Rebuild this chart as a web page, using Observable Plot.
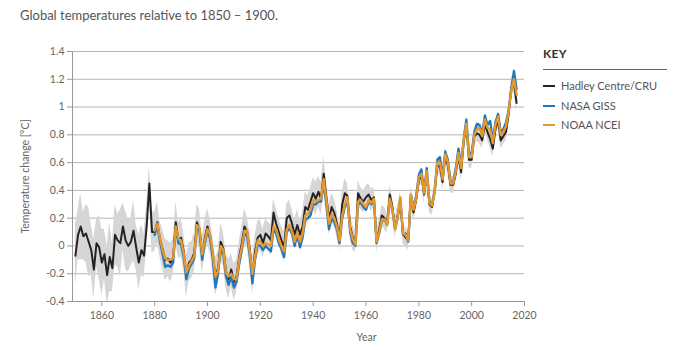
<!DOCTYPE html>
<html>
<head>
<meta charset="utf-8">
<script src="https://cdn.jsdelivr.net/npm/d3@7"></script>
<script src="https://cdn.jsdelivr.net/npm/@observablehq/plot@0.6"></script>
<style>
  html, body { margin: 0; padding: 0; background: #fff; }
  #wrap { position: relative; width: 682px; height: 350px; font-family: Lato, "Open Sans", sans-serif; }
  #title { position: absolute; left: 20px; top: 7px; font-size: 13px; color: #555; line-height: 16px; white-space: nowrap; }
  #legend { position: absolute; left: 543px; top: 47px; width: 124px; color: #555; }
  #legend .key { font-size: 12px; font-weight: 700; color: #333; letter-spacing: 0.3px; line-height: 14px; padding-bottom: 8px; border-bottom: 1px solid #666; }
  #legend .item { position: relative; height: 19.5px; font-size: 11px; line-height: 19.5px; padding-left: 18px; white-space: nowrap; }
  #legend .item .sw { position: absolute; left: 0; top: 9px; width: 12px; height: 2px; }
  #legend .items { margin-top: 6px; }
</style>
</head>
<body>
<div id="wrap">
  <div id="chart"></div>
  <div id="title"></div>
  <div id="legend"></div>
</div>
<script>
// ---- data ----
const titleText = "Global temperatures relative to 1850 \u2013 1900.";
const yLabel = "Temperature change [\u00B0C]";
const xLabel = "Year";
const keyTitle = "KEY";
const seriesNames = ["Hadley Centre/CRU", "NASA GISS", "NOAA NCEI"];
const seriesColors = ["#262223", "#1f78bd", "#e6982c"];
const bandColor = "#d6d6d6";

const hadleyStart = 1850;
const hadley = [
 -0.07, 0.08, 0.14, 0.07, 0.09, 0.03, -0.03, -0.17, 0.02, -0.01,
 -0.12, -0.06, -0.21, -0.08, -0.16, 0.08, 0.04, 0.02, 0.14, 0.04,
  0.00, 0.03, 0.11, -0.01, -0.12, -0.03, -0.07, 0.15, 0.45, 0.10,
  0.10, 0.17, 0.05, -0.02, -0.10, -0.09, -0.12, -0.08, 0.17, 0.04,
  0.06, -0.04, -0.22, -0.12, -0.10, -0.05, 0.17, 0.12, -0.07, 0.06,
  0.14, 0.07, -0.06, -0.22, -0.16, 0.03, -0.02, -0.18, -0.24, -0.17,
 -0.26, -0.22, -0.08, 0.02, 0.14, 0.10, -0.02, -0.22, -0.04, 0.06,
  0.08, 0.02, 0.09, 0.07, 0.04, 0.24, 0.16, 0.10, 0.04, -0.01,
  0.20, 0.22, 0.16, 0.08, 0.15, 0.08, 0.14, 0.28, 0.26, 0.32,
  0.38, 0.34, 0.39, 0.34, 0.52, 0.35, 0.19, 0.28, 0.24, 0.16,
  0.05, 0.30, 0.38, 0.36, 0.14, 0.06, 0.03, 0.38, 0.34, 0.32,
  0.35, 0.37, 0.33, 0.35, 0.03, 0.12, 0.22, 0.20, 0.16, 0.37,
  0.28, 0.13, 0.22, 0.32, 0.09, 0.06, 0.04, 0.36, 0.24, 0.33,
  0.47, 0.51, 0.37, 0.52, 0.30, 0.28, 0.39, 0.58, 0.57, 0.46,
  0.65, 0.58, 0.44, 0.44, 0.52, 0.65, 0.53, 0.75, 0.87, 0.62,
  0.62, 0.79, 0.81, 0.80, 0.76, 0.88, 0.82, 0.77, 0.70, 0.84,
  0.91, 0.76, 0.79, 0.82, 0.95, 1.14, 1.18, 1.03
];
// half-width of the grey uncertainty band around the Hadley series
const hadleyUnc = [
 0.22, 0.18, 0.24, 0.17, 0.21, 0.25, 0.18, 0.22, 0.17, 0.23,
 0.24, 0.18, 0.21, 0.25, 0.17, 0.22, 0.19, 0.24, 0.17, 0.21,
 0.19, 0.17, 0.22, 0.16, 0.20, 0.18, 0.16, 0.15, 0.13, 0.15,
 0.14, 0.15, 0.13, 0.14, 0.15, 0.13, 0.14, 0.13, 0.15, 0.13,
 0.14, 0.13, 0.15, 0.14, 0.13, 0.14, 0.13, 0.14, 0.13, 0.12,
 0.13, 0.12, 0.13, 0.14, 0.12, 0.13, 0.12, 0.13, 0.14, 0.12,
 0.13, 0.12, 0.11, 0.12, 0.13, 0.11, 0.12, 0.13, 0.11, 0.12,
 0.11, 0.10, 0.11, 0.10, 0.11, 0.10, 0.11, 0.10, 0.10, 0.11,
 0.10, 0.11, 0.10, 0.10, 0.11, 0.10, 0.10, 0.11, 0.10, 0.10,
 0.11, 0.12, 0.11, 0.12, 0.13, 0.12, 0.11, 0.10, 0.10, 0.10,
 0.09, 0.09, 0.10, 0.09, 0.09, 0.09, 0.08, 0.09, 0.08, 0.08,
 0.08, 0.08, 0.08, 0.07, 0.08, 0.07, 0.07, 0.08, 0.07, 0.07,
 0.07, 0.07, 0.07, 0.07, 0.07, 0.07, 0.07, 0.07, 0.06, 0.06,
 0.06, 0.06, 0.06, 0.06, 0.06, 0.06, 0.06, 0.06, 0.06, 0.06,
 0.06, 0.06, 0.06, 0.06, 0.06, 0.06, 0.06, 0.06, 0.06, 0.06,
 0.06, 0.06, 0.06, 0.06, 0.06, 0.06, 0.06, 0.06, 0.06, 0.06,
 0.06, 0.06, 0.06, 0.06, 0.06, 0.06, 0.07, 0.07
];

const gissStart = 1880;
const giss = [
  0.08, 0.15, 0.03, -0.06, -0.15, -0.14, -0.15, -0.12, 0.13, 0.02,
  0.01, -0.08, -0.24, -0.16, -0.13, -0.09, 0.14, 0.10, -0.10, 0.02,
  0.11, 0.05, -0.09, -0.30, -0.20, -0.03, -0.06, -0.22, -0.28, -0.22,
 -0.30, -0.26, -0.13, -0.03, 0.09, 0.07, -0.07, -0.27, -0.10, 0.01,
  0.00, -0.03, 0.00, -0.02, -0.04, 0.12, 0.09, 0.02, -0.02, -0.08,
  0.10, 0.13, 0.09, 0.00, 0.08, -0.01, 0.06, 0.19, 0.20, 0.22,
  0.30, 0.30, 0.32, 0.32, 0.45, 0.30, 0.12, 0.20, 0.17, 0.12,
  0.02, 0.20, 0.28, 0.33, 0.10, 0.02, 0.00, 0.30, 0.31, 0.28,
  0.26, 0.32, 0.30, 0.33, 0.02, 0.09, 0.18, 0.19, 0.15, 0.33,
  0.26, 0.12, 0.20, 0.34, 0.08, 0.09, 0.03, 0.37, 0.27, 0.36,
  0.51, 0.55, 0.38, 0.56, 0.32, 0.29, 0.40, 0.62, 0.64, 0.50,
  0.68, 0.62, 0.46, 0.46, 0.56, 0.70, 0.59, 0.77, 0.91, 0.66,
  0.67, 0.82, 0.88, 0.87, 0.81, 0.94, 0.87, 0.90, 0.76, 0.89,
  0.95, 0.82, 0.84, 0.89, 0.98, 1.13, 1.26, 1.13
];

const noaaStart = 1880;
const noaa = [
  0.11, 0.16, 0.06, -0.03, -0.09, -0.10, -0.10, -0.09, 0.14, 0.05,
  0.04, -0.05, -0.19, -0.14, -0.11, -0.07, 0.15, 0.13, -0.06, 0.04,
  0.12, 0.08, -0.05, -0.22, -0.18, 0.00, -0.03, -0.19, -0.22, -0.20,
 -0.24, -0.24, -0.10, -0.01, 0.11, 0.11, -0.04, -0.20, -0.08, 0.04,
  0.03, 0.00, 0.02, 0.01, 0.00, 0.14, 0.12, 0.05, 0.00, -0.04,
  0.12, 0.15, 0.11, 0.03, 0.10, 0.03, 0.09, 0.22, 0.23, 0.26,
  0.33, 0.32, 0.33, 0.34, 0.48, 0.33, 0.16, 0.23, 0.20, 0.14,
  0.04, 0.22, 0.30, 0.35, 0.12, 0.05, 0.01, 0.32, 0.33, 0.30,
  0.28, 0.33, 0.31, 0.34, 0.03, 0.10, 0.19, 0.19, 0.15, 0.34,
  0.26, 0.12, 0.21, 0.35, 0.09, 0.08, 0.04, 0.37, 0.26, 0.34,
  0.49, 0.52, 0.38, 0.54, 0.31, 0.29, 0.39, 0.60, 0.60, 0.48,
  0.66, 0.60, 0.45, 0.45, 0.54, 0.67, 0.56, 0.77, 0.88, 0.64,
  0.64, 0.80, 0.84, 0.85, 0.79, 0.91, 0.85, 0.84, 0.74, 0.87,
  0.93, 0.80, 0.82, 0.86, 0.97, 1.12, 1.20, 1.09
];

const xDomain = [1848.9, 2020];
const xTicks = [1860, 1880, 1900, 1920, 1940, 1960, 1980, 2000, 2020];
const yDomain = [-0.4, 1.4];
const yTicks = [-0.4, -0.2, 0, 0.2, 0.4, 0.6, 0.8, 1, 1.2, 1.4];

// ---- tables ----
const hadRows = hadley.map((v, i) => ({year: hadleyStart + i, value: v, lo: v - hadleyUnc[i], hi: v + hadleyUnc[i]}));
const gissRows = giss.map((v, i) => ({year: gissStart + i, value: v}));
const noaaRows = noaa.map((v, i) => ({year: noaaStart + i, value: v}));
const yFmt = d => String(+d.toFixed(1));

const chart = Plot.plot({
  width: 682,
  height: 350,
  marginLeft: 72,
  marginRight: 158,
  marginTop: 51,
  marginBottom: 49,
  style: {fontFamily: "Lato, 'Open Sans', sans-serif", fontSize: "10.5px", color: "#666", background: "#fff"},
  x: {domain: xDomain},
  y: {domain: yDomain},
  marks: [
    Plot.gridY(yTicks, {stroke: "#b4b4b4", strokeOpacity: 1, strokeWidth: 1}),
    Plot.areaY(hadRows, {x: "year", y1: "lo", y2: "hi", fill: bandColor}),
    Plot.line(hadRows, {x: "year", y: "value", stroke: seriesColors[0], strokeWidth: 2}),
    Plot.line(gissRows, {x: "year", y: "value", stroke: seriesColors[1], strokeWidth: 2.3}),
    Plot.line(noaaRows, {x: "year", y: "value", stroke: seriesColors[2], strokeWidth: 2.4}),
    Plot.ruleX([xDomain[0]], {stroke: "#9a9a9a", strokeWidth: 1}),
    Plot.ruleY([yDomain[0]], {stroke: "#9a9a9a", strokeWidth: 1}),
    Plot.axisY({ticks: yTicks, tickFormat: yFmt, tickSize: 5, tickPadding: 3, stroke: "#9a9a9a", fill: "#666", label: null}),
    Plot.axisX({ticks: xTicks, tickFormat: d => String(d), tickSize: 5, tickPadding: 5, stroke: "#9a9a9a", fill: "#666", label: null}),
    Plot.text([yLabel], {frameAnchor: "left", dx: -47, rotate: -90, fill: "#666", fontSize: 10.5, textAnchor: "middle"}),
    Plot.text([xLabel], {frameAnchor: "bottom", dx: 68, dy: 36, lineAnchor: "middle", fill: "#666", fontSize: 10.5})
  ]
});
document.getElementById("chart").appendChild(chart);

document.getElementById("title").textContent = titleText;
const legend = document.getElementById("legend");
const keyEl = document.createElement("div");
keyEl.className = "key";
keyEl.textContent = keyTitle;
legend.appendChild(keyEl);
const items = document.createElement("div");
items.className = "items";
seriesNames.forEach((name, i) => {
  const it = document.createElement("div");
  it.className = "item";
  const sw = document.createElement("span");
  sw.className = "sw";
  sw.style.background = seriesColors[i];
  it.appendChild(sw);
  it.appendChild(document.createTextNode(name));
  items.appendChild(it);
});
legend.appendChild(items);
</script>
</body>
</html>
